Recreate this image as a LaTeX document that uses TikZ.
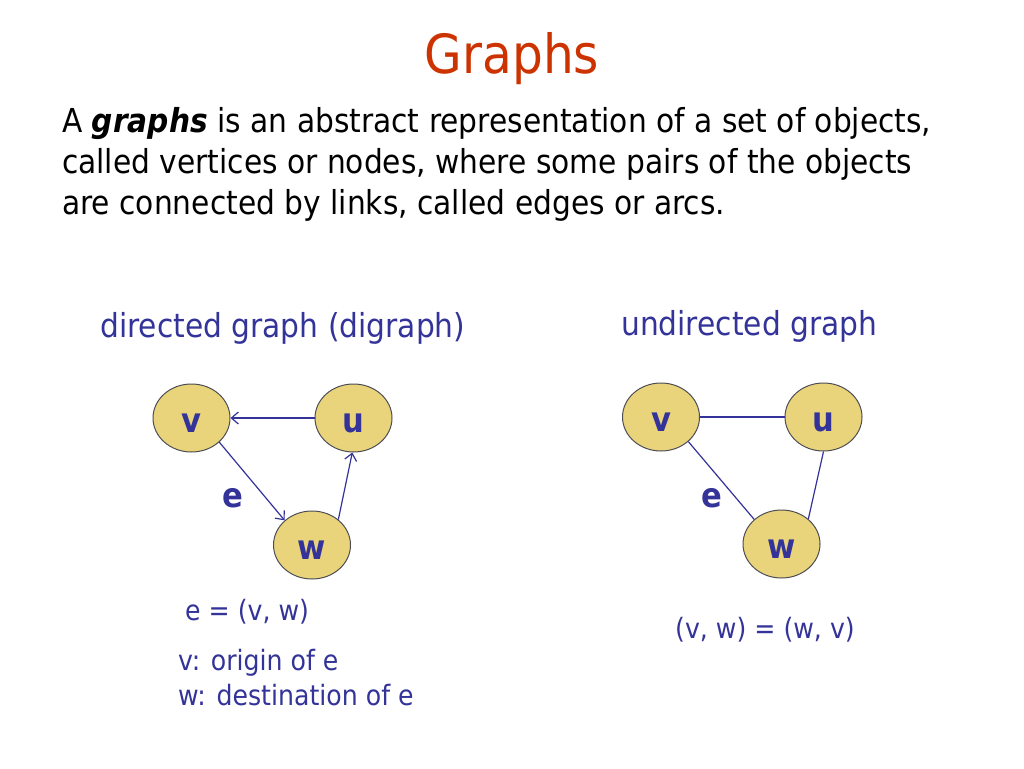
\documentclass[tikz,border=0pt]{standalone}
\usepackage{fontspec}
\setmainfont{DejaVu Sans}[FakeStretch=0.9]
\usetikzlibrary{shapes.geometric,arrows.meta}
\definecolor{titlered}{HTML}{CC3300}
\definecolor{navy}{HTML}{333399}
\definecolor{nodefill}{HTML}{E9D47C}
\definecolor{nodeline}{HTML}{4D4D55}
\begin{document}
\begin{tikzpicture}[x=1pt,y=-1pt,
  vert/.style={ellipse, draw=nodeline, line width=1pt, fill=nodefill,
    minimum width=77pt, minimum height=68pt, inner sep=0pt,
    text height=28pt, text depth=0pt,
    font=\fontsize{34}{34}\selectfont\bfseries, text=navy},
  lnk/.style={draw=navy, line width=1.2pt},
  arr/.style={lnk, -{Straight Barb[length=7pt,width=12pt]}},
  bodytext/.style={anchor=base west, inner sep=0pt, font=\fontsize{33}{33}\selectfont, text=black},
  heading/.style={anchor=base west, inner sep=0pt, font=\fontsize{33}{33}\selectfont, text=navy},
  small/.style={anchor=base west, inner sep=0pt, font=\fontsize{28}{28}\selectfont, text=navy},
  elab/.style={inner sep=0pt, font=\fontsize{34}{34}\selectfont\bfseries, text=navy}
]
\fill[white] (0,0) rectangle (1024,768);
\useasboundingbox (0,0) rectangle (1024,768);

\node[anchor=base, inner sep=0pt, font=\fontsize{54}{54}\selectfont, text=titlered] (title) at (512,73) {Graphs};

\node[bodytext] (l1) at (62,132) {A \textbf{\textit{graphs}} is an abstract representation of a set of objects,};
\node[bodytext] (l2) at (62,173) {called vertices or nodes, where some pairs of the objects};
\node[bodytext] (l3) at (62,214) {are connected by links, called edges or arcs.};

\node[heading] (h1) at (100,337) {directed graph (digraph)};
\node[heading] (h2) at (621,335) {undirected graph};

% directed graph
\node[vert] (dv) at (191.5,418) {v};
\node[vert] (du) at (353.5,418) {u};
\node[vert] (dw) at (312,545) {w};
\node[elab] (de) at (233,498) {e};
\draw[arr] (du.west) -- (dv.east);
\draw[arr] (dv.319) -- (dw.138);
\draw[arr] (dw.44) -- (du.268);

% undirected graph
\node[vert] (uv) at (661,417) {v};
\node[vert] (uu) at (823.5,417) {u};
\node[vert] (uw) at (781.5,544) {w};
\node[elab] (ue) at (712,498) {e};
\draw[lnk] (uv.east) -- (uu.west);
\draw[lnk] (uv.318) -- (uw.138);
\draw[lnk] (uw.43) -- (uu.270);

\node[small] (eq1) at (185,620) {e = (v, w)};
\node[small] (eq2) at (675,638) {(v, w) = (w, v)};
\node[small] (or) at (178,670) {v: origin of e};
\node[small] (de2) at (178,705) {w: destination of e};
\end{tikzpicture}
\end{document}
